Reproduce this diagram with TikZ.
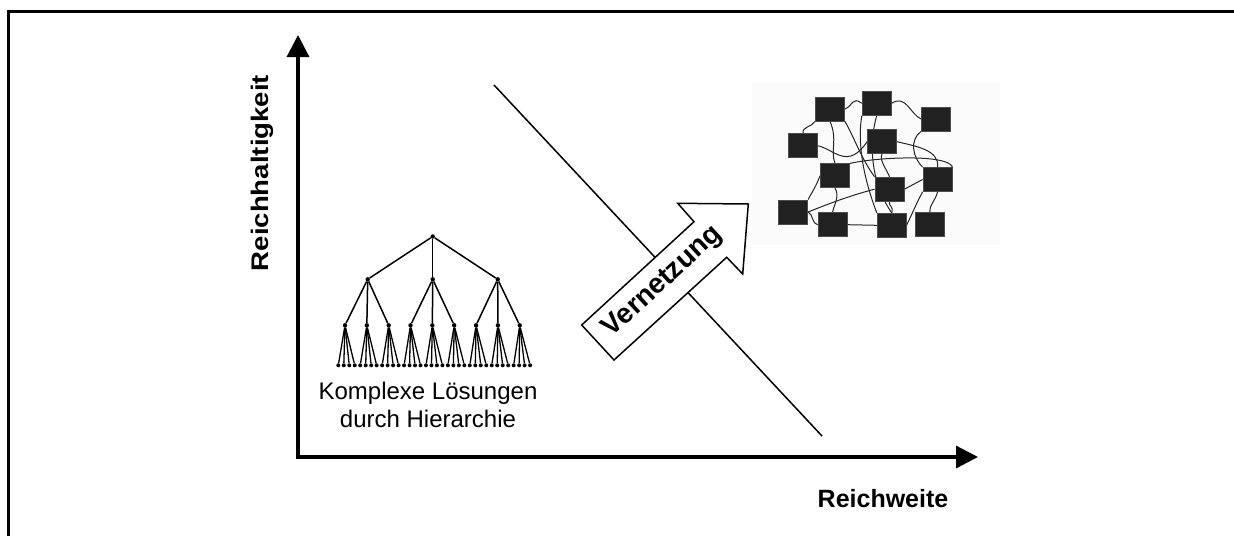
\documentclass[tikz,border=0pt]{standalone}
\usepackage{fontspec}
\setmainfont{Liberation Sans}
\usetikzlibrary{arrows.meta}
\begin{document}
\begin{tikzpicture}[x=1pt,y=-1pt,
  frame/.style={line width=3pt},
  axis/.style={line width=3.2pt,{Triangle[length=22pt,width=22pt]}-{Triangle[length=22pt,width=22pt]}},
  lab/.style={font=\bfseries\fontsize{25}{30}\selectfont,inner sep=0pt},
  captext/.style={font=\fontsize{24}{28}\selectfont,align=center,inner sep=0pt},
  dot/.style={circle,fill=black,inner sep=0pt,minimum size=4.4pt},
  branch/.style={line width=1.5pt},
  netbox/.style={rectangle,fill=black!87,draw=black!70,line width=0.8pt,minimum width=29pt,minimum height=24pt,inner sep=0pt},
  wire/.style={line width=1pt,black!85},
  blockarrow/.style={line width=1.5pt,fill=white,line join=miter}
]
\useasboundingbox (0,0) rectangle (1234,536);

% outer frame (top and left edges)
\draw[frame] (8,536) -- (8,11) -- (1234,11);

% axes
\coordinate (ytip) at (298,35);
\coordinate (orig) at (298,457);
\coordinate (xtip) at (978,457);
\draw[axis] (ytip) -- (orig) -- (xtip);
\node[lab,font=\bfseries\fontsize{24}{28}\selectfont,rotate=90] (ylab) at (262.5,173) {\scalebox{1.15}[1]{Reichhaltigkeit}};
\node[lab] (xlab) at (883,499) {Reichweite};

% diagonal boundary
\coordinate (d1) at (494,85);
\coordinate (d2) at (822,436);
\draw[line width=1.5pt] (d1) -- (d2);

% hierarchy tree
\node[dot] (root) at (432.7,236.5) {};
\foreach \k in {0,1,2}{
  \pgfmathsetmacro{\xa}{367.7+65*\k}
  \node[dot] (m\k) at (\xa,279.3) {};
  \draw[branch] (root) -- (m\k);
}
\foreach \i in {0,...,8}{
  \pgfmathsetmacro{\xb}{345+21.84*\i}
  \pgfmathtruncatemacro{\pk}{int(\i/3)}
  \node[dot] (n\i) at (\xb,325.3) {};
  \draw[branch] (m\pk) -- (n\i);
  \foreach \j in {0,...,3}{
    \pgfmathsetmacro{\xc}{338.3+5.48*(4*\i+\j)}
    \node[dot,minimum size=4pt] (leaf\i-\j) at (\xc,365.3) {};
    \draw[branch,line width=1.3pt] (n\i) -- (leaf\i-\j);
  }
}
\node[captext] (treecap) at (428,405) {Komplexe Lösungen\\durch Hierarchie};

% network cluster
\fill[black!1.5] (752,82) rectangle (1000,245);
\coordinate (b1) at (830,109);
\coordinate (b2) at (876.7,103.3);
\coordinate (b3) at (936,119);
\coordinate (b4) at (803.3,145.8);
\coordinate (b5) at (882,141.7);
\coordinate (b6) at (835,175.8);
\coordinate (b7) at (889.5,189.2);
\coordinate (b8) at (937.5,179.5);
\coordinate (b9) at (793.3,212);
\coordinate (b10) at (832.5,224.7);
\coordinate (b11) at (891.7,225.3);
\coordinate (b12) at (929.7,224.7);
\foreach \b in {1,...,12}{
  \node[netbox,fill=none,draw=none] (nb\b) at (b\b) {};
}
\draw[wire] (nb1.east) .. controls (853,106) and (852,96) .. (nb2.west);
\draw[wire] (nb2.east) .. controls (906,94) and (910,114) .. (nb3.west);
\draw[wire] (nb4.north) .. controls (801,127) and (812,127) .. (nb1.south west);
\draw[wire] (nb1.south) .. controls (838,140) and (830,150) .. (nb6.north);
\draw[wire] (nb1.south east) .. controls (853,135) and (862,160) .. (nb7.north west);
\draw[wire] (nb2.south west) .. controls (856,150) and (868,190) .. (nb11.north west);
\draw[wire] (nb2.south) .. controls (873,128) and (864,172) .. (nb11.north);
\draw[wire] (nb3.south west) .. controls (909,140) and (913,158) .. (nb8.north west);
\draw[wire] (nb5.east) .. controls (915,146) and (940,150) .. (nb8.north);
\draw[wire] (nb6.north east) .. controls (878,157) and (948,154) .. (nb8.north east);
\draw[wire] (nb7.east) -- (nb8.west);
\draw[wire] (nb9.north east) .. controls (810,195) and (814,191) .. (nb6.west);
\draw[wire] (nb9.east) .. controls (813,214) and (812,224) .. (nb10.west);
\draw[wire] (nb10.east) -- (nb11.west);
\draw[wire] (nb8.south) .. controls (936,200) and (929,205) .. (nb12.north);
\draw[wire] (nb9.east) .. controls (840,199) and (860,193) .. (nb7.west);
\draw[wire] (nb6.south) .. controls (840,196) and (834,205) .. (nb10.north);
\draw[wire] (nb5.south) .. controls (879,160) and (886,168) .. (nb7.north);
\draw[wire] (nb7.south) .. controls (888,206) and (894,206) .. (nb11.north);
\draw[wire] (nb4.east) .. controls (835,150) and (848,170) .. (nb5.west);
\draw[wire] (nb8.south west) .. controls (918,200) and (912,214) .. (nb11.east);
\foreach \b in {1,...,12}{
  \node[netbox] (box\b) at (b\b) {};
}

% block arrow
\draw[blockarrow] (581.7,325) -- (694,221.7) -- (677.7,203.3) -- (748.3,204)
  -- (742.7,274) -- (726.7,257.3) -- (614,360) -- cycle;
\node[lab,font=\bfseries\fontsize{28}{32}\selectfont,rotate=42.6] (vern) at (663,282) {Vernetzung};
\end{tikzpicture}
\end{document}
